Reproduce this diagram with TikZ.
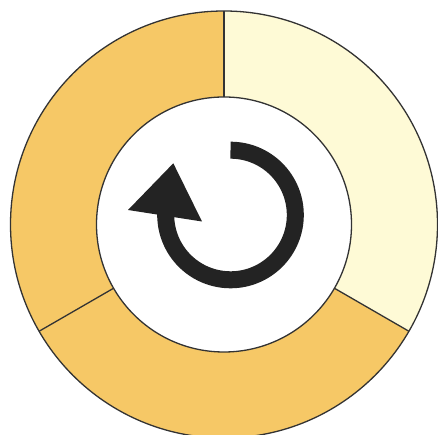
\documentclass[tikz,border=0pt]{standalone}
\usetikzlibrary{calc}
\begin{document}
\begin{tikzpicture}[x=1pt,y=1pt,
  ringline/.style={draw=black!80, line width=1.3pt}]
\definecolor{ringorange}{RGB}{246,200,102}
\definecolor{ringcream}{RGB}{254,250,214}
\definecolor{arrowdark}{RGB}{35,35,35}
\useasboundingbox (0,0) rectangle (438,435);
\clip (0,0) rectangle (438,435);
\coordinate (c) at (224,210.5);
% ring
\fill[ringorange] (c) circle[radius=213.5];
\fill[ringcream] (c) -- ++(-30:213.5) arc[start angle=-30, end angle=90, radius=213.5] -- cycle;
\fill[white] (c) circle[radius=127.5];
\draw[ringline] (c) circle[radius=213.5];
\draw[ringline] (c) circle[radius=127.5];
\draw[ringline] ($(c)+(90:127.5)$) -- ($(c)+(90:213.5)$);
\draw[ringline] ($(c)+(210:127.5)$) -- ($(c)+(210:213.5)$);
\draw[ringline] ($(c)+(330:127.5)$) -- ($(c)+(330:213.5)$);
% circular arrow
\coordinate (ac) at (230.5,220);
\draw[arrowdark, line width=17pt] ($(ac)+(90:64.8)$) arc[start angle=90, end angle=-182, radius=64.8];
\fill[arrowdark] (128,225) -- (202,213.5) -- (173.3,271.7) -- cycle;
\end{tikzpicture}
\end{document}
